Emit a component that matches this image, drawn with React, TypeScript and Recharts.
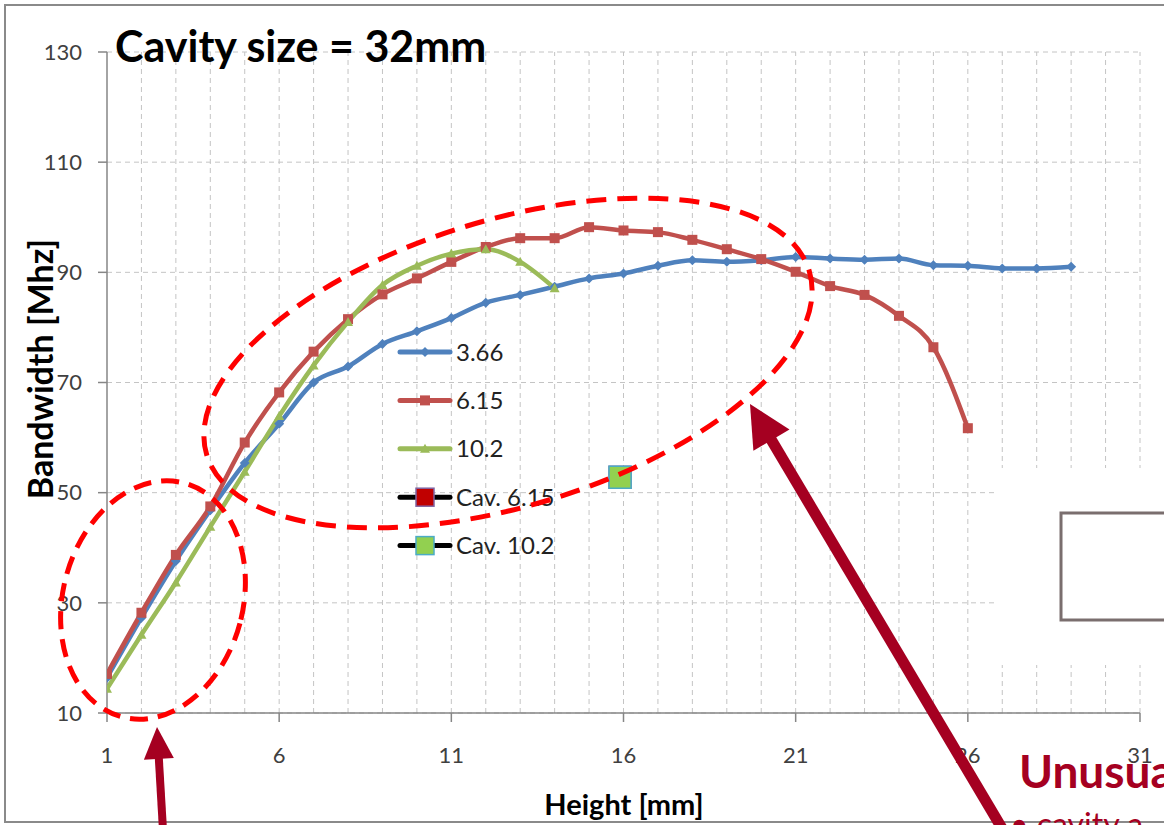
import React from "react";
import { ComposedChart, Line, Scatter, XAxis, YAxis, CartesianGrid, ReferenceLine, Legend } from "recharts";

const heights366 = [1, 2, 3, 4, 5, 6, 7, 8, 9, 10, 11, 12, 13, 14, 15, 16, 17, 18, 19, 20, 21, 22, 23, 24, 25, 26, 27, 28, 29];
const bw366 = [16.4, 27.3, 37.6, 46.8, 55.4, 62.5, 70.0, 72.9, 77.0, 79.3, 81.7, 84.5, 85.9, 87.4, 88.9, 89.8, 91.2, 92.2, 91.9, 92.2, 92.8, 92.5, 92.3, 92.5, 91.3, 91.2, 90.7, 90.7, 91.0];

const heights615 = [1, 2, 3, 4, 5, 6, 7, 8, 9, 10, 11, 12, 13, 14, 15, 16, 17, 18, 19, 20, 21, 22, 23, 24, 25, 26];
const bw615 = [17.1, 28.2, 38.7, 47.5, 59.1, 68.2, 75.6, 81.5, 86.0, 88.9, 91.9, 94.6, 96.2, 96.2, 98.2, 97.6, 97.3, 95.9, 94.2, 92.4, 90.1, 87.5, 85.9, 82.1, 76.4, 61.7];

const heights102 = [1, 2, 3, 4, 5, 6, 7, 8, 9, 10, 11, 12, 13, 14];
const bw102 = [14.4, 24.2, 33.7, 43.8, 53.8, 63.9, 73.1, 81.0, 87.7, 91.2, 93.4, 94.2, 91.9, 87.1];

const cavHeights = [15.9];
const cav615 = [52.8];
const cav102 = [52.8];

const xTicks = [1, 6, 11, 16, 21, 26, 31];
const yTicks = [10, 30, 50, 70, 90, 110, 130];
const minorX = [2, 3, 4, 5, 6, 7, 8, 9, 10, 11, 12, 13, 14, 15, 16, 17, 18, 19, 20, 21, 22, 23, 24, 25, 26, 27, 28, 29, 30, 31];

const BLUE = "#4F81BD";
const RED = "#C0504D";
const GREEN = "#9BBB59";
const DARK_RED = "#A50021";
const FONT = "Lato, 'Open Sans', sans-serif";

const pts = (xs: number[], ys: number[]) => xs.map((x, i) => ({ x, y: ys[i] }));

const s366 = pts(heights366, bw366);
const s615 = pts(heights615, bw615);
const s102 = pts(heights102, bw102);
const sCav615 = pts(cavHeights, cav615);
const sCav102 = pts(cavHeights, cav102);

function Marker({ kind, cx, cy, big }: { kind: string; cx: number; cy: number; big?: boolean }) {
  if (kind === "diamond") {
    return <polygon points={`${cx},${cy - 5} ${cx + 5},${cy} ${cx},${cy + 5} ${cx - 5},${cy}`} fill={BLUE} />;
  }
  if (kind === "square") {
    return <rect x={cx - 5} y={cy - 5} width={10} height={10} fill={RED} />;
  }
  if (kind === "triangle") {
    return <polygon points={`${cx},${cy - 5} ${cx + 5},${cy + 4} ${cx - 5},${cy + 4}`} fill={GREEN} />;
  }
  const h = big ? 11 : 9;
  if (kind === "cav615") {
    return <rect x={cx - h} y={cy - h} width={2 * h} height={2 * h} fill="#C00000" stroke="#8064A2" strokeWidth={1.5} />;
  }
  return <rect x={cx - h} y={cy - h} width={2 * h} height={2 * h} fill="#92D050" stroke="#4BACC6" strokeWidth={1.5} />;
}

const dotOf = (kind: string) => (p: any) => {
  if (p.cx == null || p.cy == null) return <g key={`${kind}-${p.index}`} />;
  return <Marker key={`${kind}-${p.index}`} kind={kind} cx={p.cx} cy={p.cy} big />;
};

const legendRows = [
  { name: "3.66", line: BLUE, kind: "diamond" },
  { name: "6.15", line: RED, kind: "square" },
  { name: "10.2", line: GREEN, kind: "triangle" },
  { name: "Cav. 6.15", line: "#000", kind: "cav615" },
  { name: "Cav. 10.2", line: "#000", kind: "cav102" },
];

function LegendBox() {
  return (
    <svg width={200} height={245}>
      {legendRows.map((r, i) => {
        const y = 24 + i * 48.4;
        return (
          <g key={r.name}>
            <line x1={5} x2={55} y1={y} y2={y} stroke={r.line} strokeWidth={5} strokeLinecap="round" />
            <Marker kind={r.kind} cx={30} cy={y} />
            <text x={61} y={y + 8.5} fontFamily={FONT} fontSize={24} fill="#222">{r.name}</text>
          </g>
        );
      })}
    </svg>
  );
}

function arrow(x1: number, y1: number, x2: number, y2: number, shaft: number, headLen: number, headHalf: number) {
  const dx = x2 - x1;
  const dy = y2 - y1;
  const len = Math.sqrt(dx * dx + dy * dy);
  const ux = dx / len;
  const uy = dy / len;
  const bx = x2 - ux * headLen;
  const by = y2 - uy * headLen;
  const px = -uy;
  const py = ux;
  return (
    <g>
      <line x1={x1} y1={y1} x2={bx + ux * 2} y2={by + uy * 2} stroke={DARK_RED} strokeWidth={shaft} />
      <polygon points={`${x2},${y2} ${bx + px * headHalf},${by + py * headHalf} ${bx - px * headHalf},${by - py * headHalf}`} fill={DARK_RED} />
    </g>
  );
}

export default function App() {
  const tickStyle = { fontFamily: FONT, fontSize: 22, fill: "#404040" };
  return (
    <div style={{ position: "absolute", left: 0, top: 0, width: 1164, height: 825, overflow: "hidden", background: "#fff" }}>
      <ComposedChart width={1164} height={825} margin={{ top: 52, right: 24, bottom: 52, left: 0 }}>
        <CartesianGrid vertical={false} stroke="#c4c4c4" strokeDasharray="5 4" />
        {minorX.map((x) => (
          <ReferenceLine key={x} x={x} stroke="#c4c4c4" strokeDasharray="5 4" />
        ))}
        <XAxis
          type="number"
          dataKey="x"
          domain={[1, 31]}
          ticks={xTicks}
          allowDataOverflow
          stroke="#868686"
          strokeWidth={1.5}
          tickSize={9}
          tickMargin={25}
          height={60}
          tick={tickStyle}
        />
        <YAxis
          type="number"
          dataKey="y"
          domain={[10, 130]}
          ticks={yTicks}
          allowDataOverflow
          stroke="#868686"
          strokeWidth={1.5}
          tickSize={9}
          tickMargin={16}
          width={107}
          tick={tickStyle}
        />
        <Legend content={LegendBox} layout="horizontal" verticalAlign="middle" align="center" wrapperStyle={{ left: 395, top: 328, width: 200, height: 245 }} />
        <Line data={s366} dataKey="y" name="3.66" type="monotone" stroke={BLUE} strokeWidth={4.5} dot={dotOf("diamond")} activeDot={false} isAnimationActive={false} />
        <Line data={s615} dataKey="y" name="6.15" type="monotone" stroke={RED} strokeWidth={4.5} dot={dotOf("square")} activeDot={false} isAnimationActive={false} />
        <Line data={s102} dataKey="y" name="10.2" type="monotone" stroke={GREEN} strokeWidth={4.5} dot={dotOf("triangle")} activeDot={false} isAnimationActive={false} />
        <Scatter data={sCav615} dataKey="y" name="Cav. 6.15" shape={dotOf("cav615")} isAnimationActive={false} />
        <Scatter data={sCav102} dataKey="y" name="Cav. 10.2" shape={dotOf("cav102")} isAnimationActive={false} />
      </ComposedChart>

      <svg width={1164} height={825} style={{ position: "absolute", left: 0, top: 0, pointerEvents: "none" }}>
        <rect x={998} y={468} width={170} height={197} fill="#fff" />
        <rect x={1061} y={513} width={120} height={107} fill="none" stroke="#7a6e6e" strokeWidth={3} />
        <rect x={5} y={5} width={1170} height={817} fill="none" stroke="#8a8a8a" strokeWidth={2} />

        <text x={115} y={62} fontFamily={FONT} fontSize={43} fontWeight={700} fill="#000">Cavity size = 32mm</text>
        <text x={624} y={815} textAnchor="middle" fontFamily={FONT} fontSize={29} fontWeight={700} fill="#000">Height [mm]</text>
        <text x={0} y={0} transform="translate(53,369) rotate(-90)" textAnchor="middle" fontFamily={FONT} fontSize={34} fontWeight={700} fill="#000">Bandwidth [Mhz]</text>

        <ellipse cx={153} cy={600} rx={90} ry={121} transform="rotate(15 153 600)" fill="none" stroke="#FF0000" strokeWidth={5} strokeDasharray="18 10" />
        <ellipse cx={508} cy={363} rx={315} ry={143} transform="rotate(-17 508 363)" fill="none" stroke="#FF0000" strokeWidth={5} strokeDasharray="20 11" />

        {arrow(163, 830, 157, 727, 8, 32, 15)}
        {arrow(1003, 830, 750, 404, 11, 42, 21)}

        <text x={1019} y={788} fontFamily={FONT} fontSize={46} fontWeight={700} fill={DARK_RED}>Unusual</text>
        <text x={1010} y={836} fontFamily={FONT} fontSize={32} fill={DARK_RED}>• cavity a</text>
      </svg>
    </div>
  );
}
